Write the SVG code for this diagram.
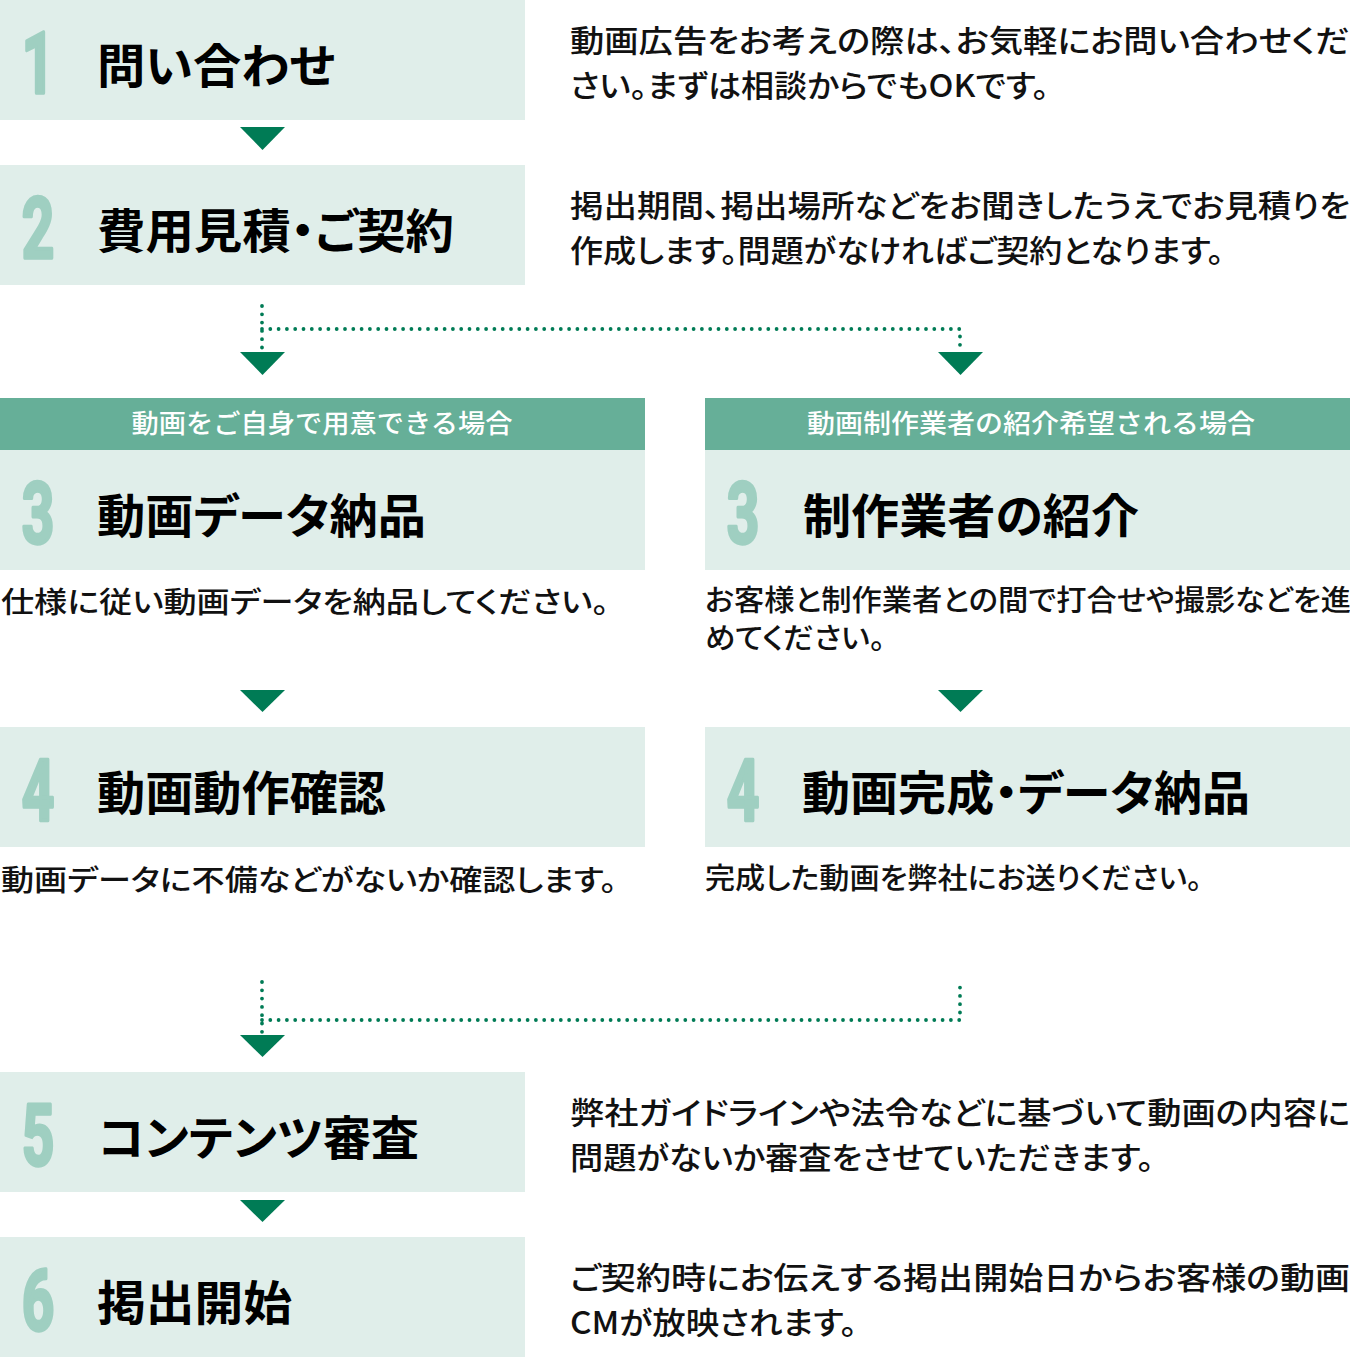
<svg xmlns="http://www.w3.org/2000/svg" width="1350" height="1371" viewBox="0 0 1350 1371">
<style>
.bg{fill:#ffffff}
.box{fill:#e0eeea}
.bar{fill:#66af98}
.num{font-family:Roboto,"Liberation Sans",sans-serif;font-weight:700;font-size:86px;fill:#9fcfc1;stroke:#9fcfc1;stroke-width:3.5;stroke-linejoin:round;text-anchor:middle}
.ttl{font-family:"Noto Sans CJK JP",sans-serif;font-weight:700;font-size:47px;fill:#000;font-feature-settings:"palt"}
.dsc{font-family:"Noto Sans CJK JP",sans-serif;font-weight:500;font-size:31px;fill:#111;font-feature-settings:"palt"}
.dsc2{font-family:"Noto Sans CJK JP",sans-serif;font-weight:500;font-size:29px;fill:#111;font-feature-settings:"palt"}
.hdr{font-family:"Noto Sans CJK JP",sans-serif;font-weight:500;font-size:26px;fill:#ffffff;text-anchor:middle}
.tri{fill:#007b55}
.dot{fill:none;stroke:#007b55;stroke-width:3.8;stroke-dasharray:0 8.3;stroke-linecap:round}
</style>
<rect class="bg" x="0" y="0" width="1350" height="1371"/>

<g id="step1">
<rect class="box" x="0" y="0" width="525" height="120"/>
<text class="num" transform="translate(38,93) scale(0.66,1)">1</text>
<text class="ttl" x="97" y="83" textLength="238" lengthAdjust="spacingAndGlyphs">問い合わせ</text>
<text class="dsc" x="570" y="52" textLength="780" lengthAdjust="spacingAndGlyphs">動画広告をお考えの際は、お気軽にお問い合わせくだ</text>
<text class="dsc" x="570" y="97" textLength="479" lengthAdjust="spacingAndGlyphs">さい。まずは相談からでもOKです。</text>
</g>

<g id="step2">
<rect class="box" x="0" y="165" width="525" height="120"/>
<text class="num" transform="translate(38,258) scale(0.66,1)">2</text>
<text class="ttl" x="97" y="248" textLength="357" lengthAdjust="spacingAndGlyphs">費用見積・ご契約</text>
<text class="dsc" x="570" y="217" textLength="780" lengthAdjust="spacingAndGlyphs">掲出期間、掲出場所などをお聞きしたうえでお見積りを</text>
<text class="dsc" x="570" y="262" textLength="654" lengthAdjust="spacingAndGlyphs">作成します。問題がなければご契約となります。</text>
</g>

<g id="header-left">
<rect class="bar" x="0" y="398" width="645" height="52"/>
<text class="hdr" x="322" y="433" textLength="381" lengthAdjust="spacingAndGlyphs">動画をご自身で用意できる場合</text>
</g>

<g id="header-right">
<rect class="bar" x="705" y="398" width="645" height="52"/>
<text class="hdr" x="1031" y="433" textLength="448" lengthAdjust="spacingAndGlyphs">動画制作業者の紹介希望される場合</text>
</g>

<g id="step3-left">
<rect class="box" x="0" y="450" width="645" height="120"/>
<text class="num" transform="translate(38,543) scale(0.66,1)">3</text>
<text class="ttl" x="97" y="533" textLength="329" lengthAdjust="spacingAndGlyphs">動画データ納品</text>
<text class="dsc2" x="1" y="613" textLength="608" lengthAdjust="spacingAndGlyphs">仕様に従い動画データを納品してください。</text>
</g>

<g id="step3-right">
<rect class="box" x="705" y="450" width="645" height="120"/>
<text class="num" transform="translate(743,543) scale(0.66,1)">3</text>
<text class="ttl" x="803" y="533" textLength="336" lengthAdjust="spacingAndGlyphs">制作業者の紹介</text>
<text class="dsc2" x="705" y="611" textLength="646" lengthAdjust="spacingAndGlyphs">お客様と制作業者との間で打合せや撮影などを進</text>
<text class="dsc2" x="705" y="649" textLength="180" lengthAdjust="spacingAndGlyphs">めてください。</text>
</g>

<g id="step4-left">
<rect class="box" x="0" y="727" width="645" height="120"/>
<text class="num" transform="translate(38,820) scale(0.66,1)">4</text>
<text class="ttl" x="97" y="810" textLength="289" lengthAdjust="spacingAndGlyphs">動画動作確認</text>
<text class="dsc2" x="1" y="891" textLength="616" lengthAdjust="spacingAndGlyphs">動画データに不備などがないか確認します。</text>
</g>

<g id="step4-right">
<rect class="box" x="705" y="727" width="645" height="120"/>
<text class="num" transform="translate(743,820) scale(0.66,1)">4</text>
<text class="ttl" x="802" y="810" textLength="448" lengthAdjust="spacingAndGlyphs">動画完成・データ納品</text>
<text class="dsc2" x="705" y="889" textLength="497" lengthAdjust="spacingAndGlyphs">完成した動画を弊社にお送りください。</text>
</g>

<g id="step5">
<rect class="box" x="0" y="1072" width="525" height="120"/>
<text class="num" transform="translate(38,1165) scale(0.66,1)">5</text>
<text class="ttl" x="98" y="1155" textLength="321" lengthAdjust="spacingAndGlyphs">コンテンツ審査</text>
<text class="dsc" x="570" y="1124" textLength="780" lengthAdjust="spacingAndGlyphs">弊社ガイドラインや法令などに基づいて動画の内容に</text>
<text class="dsc" x="570" y="1169" textLength="584" lengthAdjust="spacingAndGlyphs">問題がないか審査をさせていただきます。</text>
</g>

<g id="step6">
<rect class="box" x="0" y="1237" width="525" height="120"/>
<text class="num" transform="translate(38,1330) scale(0.66,1)">6</text>
<text class="ttl" x="97" y="1320" textLength="195" lengthAdjust="spacingAndGlyphs">掲出開始</text>
<text class="dsc" x="570" y="1289" textLength="780" lengthAdjust="spacingAndGlyphs">ご契約時にお伝えする掲出開始日からお客様の動画</text>
<text class="dsc" x="570" y="1334" textLength="287" lengthAdjust="spacingAndGlyphs">CMが放映されます。</text>
</g>

<g id="connectors">
<polygon class="tri" points="240,127 285,127 262.5,150"/>
<path class="dot" d="M262,306 V348 M262,329 H960 V348"/>
<polygon class="tri" points="240,352 285,352 262.5,375"/>
<polygon class="tri" points="938,352 983,352 960.5,375"/>
<polygon class="tri" points="240,690 285,690 262.5,712"/>
<polygon class="tri" points="938,690 983,690 960.5,712"/>
<path class="dot" d="M262,982 V1032 M262,1020 H960 V982"/>
<polygon class="tri" points="240,1035 285,1035 262.5,1057"/>
<polygon class="tri" points="240,1200 285,1200 262.5,1222"/>
</g>
</svg>
